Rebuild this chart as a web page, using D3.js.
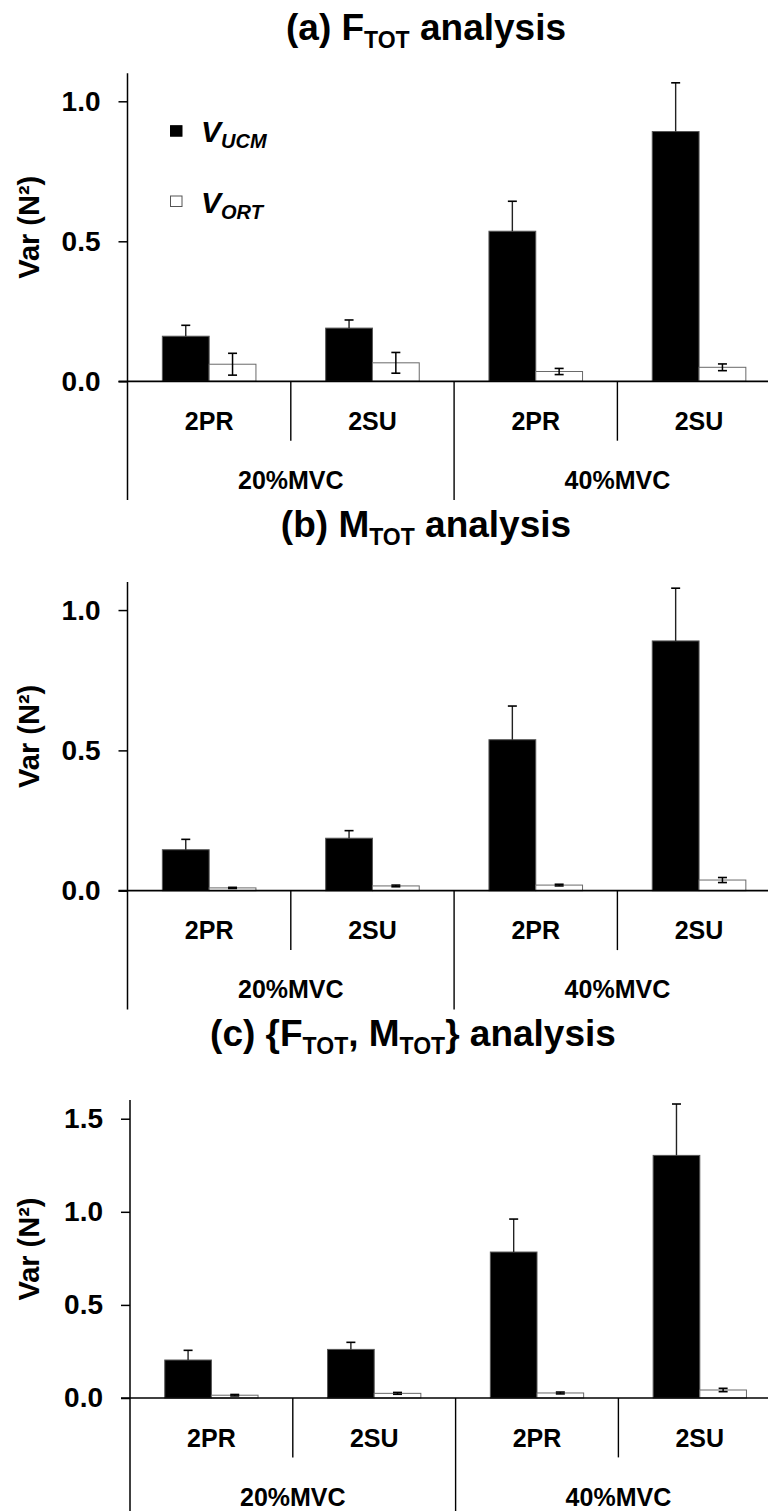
<!DOCTYPE html>
<html>
<head>
<meta charset="utf-8">
<script src="https://cdn.jsdelivr.net/npm/d3@7"></script>
<style>
  body { margin: 0; background: #fff; }
  svg text { font-family: "Liberation Sans", Arial, sans-serif; font-weight: bold; fill: #000; }
</style>
</head>
<body>
<script>
// categories along the x axis
const categories = ["2PR", "2SU", "2PR", "2SU"];
const groups = ["20%MVC", "40%MVC"];

// (a) F_TOT analysis
const ucmA = [0.161, 0.190, 0.536, 0.892];
const ucmErrA = [0.039, 0.029, 0.107, 0.174];
const ortA = [0.061, 0.066, 0.035, 0.050];
const ortErrA = [0.039, 0.037, 0.011, 0.012];

// (b) M_TOT analysis
const ucmB = [0.146, 0.187, 0.538, 0.890];
const ucmErrB = [0.037, 0.027, 0.120, 0.188];
const ortB = [0.010, 0.017, 0.020, 0.038];
const ortErrB = [0.002, 0.003, 0.003, 0.009];

// (c) {F_TOT, M_TOT} analysis
const ucmC = [0.204, 0.261, 0.784, 1.303];
const ucmErrC = [0.052, 0.038, 0.177, 0.276];
const ortC = [0.015, 0.025, 0.027, 0.043];
const ortErrC = [0.004, 0.005, 0.005, 0.009];

// tick labels
const ticksAB = [0, 0.5, 1.0];
const ticksC = [0, 0.5, 1.0, 1.5];

// titles: [text, subscript?]
const titleA = [["(a) F", false], ["TOT", true], [" analysis", false]];
const titleB = [["(b) M", false], ["TOT", true], [" analysis", false]];
const titleC = [["(c) {F", false], ["TOT", true], [", M", false], ["TOT", true], ["} analysis", false]];

// panel layout (pixels)
const panels = [
    { title: titleA, titleX: 426, titleY: 40, left: 127.5, step: 163.3, top: 73.3, base: 381.3, yMax: 1.1,
      ticks: ticksAB, ucm: ucmA, ucmErr: ucmErrA, ort: ortA, ortErr: ortErrA, legend: true },
    { title: titleB, titleX: 426, titleY: 537, left: 127.5, step: 163.3, top: 582, base: 890.7, yMax: 1.1,
      ticks: ticksAB, ucm: ucmB, ucmErr: ucmErrB, ort: ortB, ortErr: ortErrB, legend: false },
    { title: titleC, titleX: 413, titleY: 1046, left: 130, step: 162.8, top: 1100.1, base: 1398, yMax: 1.6,
      ticks: ticksC, ucm: ucmC, ucmErr: ucmErrC, ort: ortC, ortErr: ortErrC, legend: false },
];

const svg = d3.select("body")
    .append("svg")
    .attr("width", 768)
    .attr("height", 1511);

panels.forEach(p => drawPanel(p));

function drawPanel(p) {
    const g = svg.append("g");

    const y = d3.scaleLinear()
        .domain([0, p.yMax])
        .range([p.base, p.top]);

    const x0 = d3.scaleBand()
        .domain(d3.range(categories.length))
        .range([p.left, p.left + p.step * categories.length])
        .padding(0);

    const x1 = d3.scaleBand()
        .domain(["ucm", "ort"])
        .range([0, x0.bandwidth()])
        .paddingInner(0)
        .paddingOuter(0.745);

    const xg = d3.scaleBand()
        .domain(groups)
        .range(x0.range());

    // title with subscripts
    const title = g.append("text")
        .attr("x", p.titleX)
        .attr("y", p.titleY)
        .attr("text-anchor", "middle")
        .style("font-size", "37px");
    let shifted = false;
    p.title.forEach(([t, sub]) => {
        const span = title.append("tspan").text(t);
        if (sub && !shifted) { span.attr("dy", 8).style("font-size", "23px"); shifted = true; }
        else if (sub) { span.style("font-size", "23px"); }
        else if (shifted) { span.attr("dy", -8); shifted = false; }
    });

    const rows = categories.map((c, i) => ({
        i: i, ucm: p.ucm[i], ucmErr: p.ucmErr[i], ort: p.ort[i], ortErr: p.ortErr[i]
    }));

    // bars
    const cell = g.selectAll(".cell")
        .data(rows)
        .enter()
        .append("g")
        .attr("transform", d => `translate(${x0(d.i)},0)`);

    cell.append("rect")
        .attr("x", x1("ucm"))
        .attr("y", d => y(d.ucm))
        .attr("width", x1.bandwidth())
        .attr("height", d => y(0) - y(d.ucm))
        .attr("fill", "#000")
        .attr("stroke", "#555")
        .attr("stroke-width", 1);

    cell.append("rect")
        .attr("x", x1("ort"))
        .attr("y", d => y(d.ort))
        .attr("width", x1.bandwidth())
        .attr("height", d => y(0) - y(d.ort))
        .attr("fill", "#fff")
        .attr("stroke", "#6a6a6a")
        .attr("stroke-width", 1);

    // error bars: upward only on V_UCM, both ways on V_ORT
    const cap = 4.5;
    const cu = x1("ucm") + x1.bandwidth() / 2;
    cell.append("line")
        .attr("x1", cu).attr("x2", cu)
        .attr("y1", d => y(d.ucm)).attr("y2", d => y(d.ucm + d.ucmErr))
        .attr("stroke", "#222").attr("stroke-width", 1.4);
    cell.append("line")
        .attr("x1", cu - cap).attr("x2", cu + cap)
        .attr("y1", d => y(d.ucm + d.ucmErr)).attr("y2", d => y(d.ucm + d.ucmErr))
        .attr("stroke", "#000").attr("stroke-width", 1.6);

    const co = x1("ort") + x1.bandwidth() / 2;
    cell.append("line")
        .attr("x1", co).attr("x2", co)
        .attr("y1", d => y(d.ort - d.ortErr)).attr("y2", d => y(d.ort + d.ortErr))
        .attr("stroke", "#000").attr("stroke-width", 1.5);
    [-1, 1].forEach(s => {
        cell.append("line")
            .attr("x1", co - cap).attr("x2", co + cap)
            .attr("y1", d => y(d.ort + s * d.ortErr)).attr("y2", d => y(d.ort + s * d.ortErr))
            .attr("stroke", "#000").attr("stroke-width", 1.6);
    });

    // y axis
    const yAxis = g.append("g")
        .attr("transform", `translate(${p.left},0)`)
        .call(d3.axisLeft(y).tickValues(p.ticks).tickFormat(d3.format(".1f")).tickSize(9).tickPadding(18))
        .call(a => a.select(".domain").remove());
    yAxis.selectAll("line").attr("stroke", "#000").attr("stroke-width", 1.5);
    yAxis.selectAll("text").style("font-size", "28px").attr("fill", "#000");

    // axis line continuing down as the table border
    const tableBottom = p.base + 118.7;
    g.append("line")
        .attr("x1", p.left).attr("x2", p.left)
        .attr("y1", p.top).attr("y2", tableBottom)
        .attr("stroke", "#000").attr("stroke-width", 1.5);

    // baseline
    g.append("line")
        .attr("x1", p.left - 9).attr("x2", 800)
        .attr("y1", y(0)).attr("y2", y(0))
        .attr("stroke", "#000").attr("stroke-width", 1.7);

    // separators between conditions (short) and groups (long)
    [1, 3].forEach(i => {
        g.append("line")
            .attr("x1", x0(i)).attr("x2", x0(i))
            .attr("y1", y(0)).attr("y2", y(0) + 59.4)
            .attr("stroke", "#000").attr("stroke-width", 1.4);
    });
    g.append("line")
        .attr("x1", x0(2)).attr("x2", x0(2))
        .attr("y1", y(0)).attr("y2", tableBottom)
        .attr("stroke", "#000").attr("stroke-width", 1.4);

    // category labels
    g.selectAll(".cat")
        .data(categories)
        .enter()
        .append("text")
        .attr("x", (d, i) => x0(i) + x0.bandwidth() / 2)
        .attr("y", y(0) + 48.7)
        .attr("text-anchor", "middle")
        .style("font-size", "25px")
        .text(d => d);

    g.selectAll(".grp")
        .data(groups)
        .enter()
        .append("text")
        .attr("x", d => xg(d) + xg.bandwidth() / 2)
        .attr("y", y(0) + 107.7)
        .attr("text-anchor", "middle")
        .style("font-size", "25px")
        .text(d => d);

    // y label
    g.append("text")
        .attr("transform", `translate(39,${(p.top + p.base) / 2}) rotate(-90)`)
        .attr("text-anchor", "middle")
        .style("font-size", "29px")
        .text("Var (N²)");

    if (p.legend) {
        const legend = g.append("g");
        const items = [
            { sub: "UCM", fill: "#000", stroke: "#000", y: 125.7, ty: 141.7 },
            { sub: "ORT", fill: "#fff", stroke: "#555", y: 196, ty: 213.3 },
        ];
        items.forEach(it => {
            legend.append("rect")
                .attr("x", 170.5).attr("y", it.y)
                .attr("width", 11.5).attr("height", 10.5)
                .attr("fill", it.fill)
                .attr("stroke", it.stroke)
                .attr("stroke-width", 1);
            const t = legend.append("text")
                .attr("x", 201)
                .attr("y", it.ty)
                .style("font-size", "30px")
                .style("font-style", "italic");
            t.append("tspan").text("V");
            t.append("tspan").attr("dy", 6).style("font-size", "20px").text(it.sub);
        });
    }
}
</script>
</body>
</html>
